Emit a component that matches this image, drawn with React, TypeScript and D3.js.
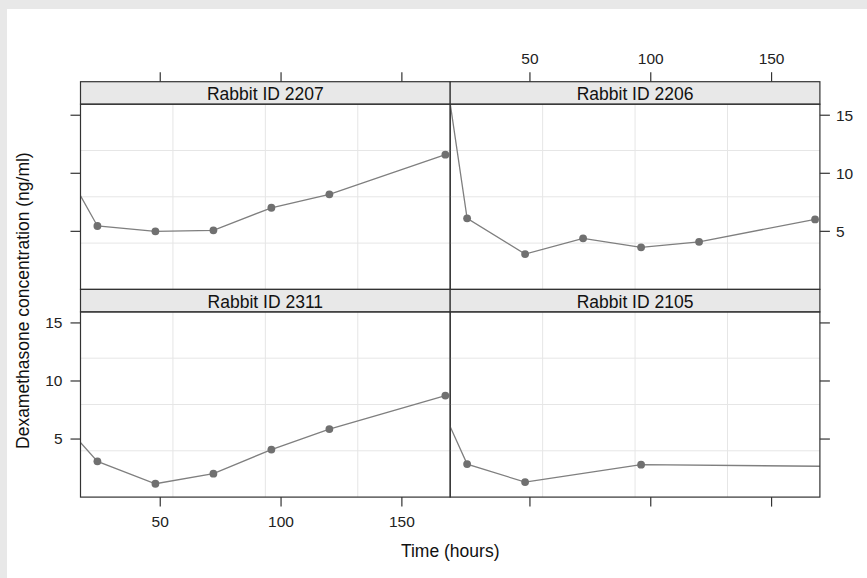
import React from "react";
import * as d3 from "d3";

const rabbitIds = ["2207", "2206", "2311", "2105"];
const time2207 = [0, 24, 48, 72, 96, 120, 168];
const conc2207 = [14.4, 5.46, 5.0, 5.09, 7.03, 8.19, 11.6];
const time2206 = [0, 24, 48, 72, 96, 120, 168];
const conc2206 = [40, 6.12, 3.04, 4.4, 3.62, 4.1, 6.03];
const time2311 = [0, 24, 48, 72, 96, 120, 168];
const conc2311 = [8.6, 3.08, 1.15, 2.02, 4.09, 5.86, 8.74];
const time2105 = [0, 24, 48, 96, 192];
const conc2105 = [13.9, 2.84, 1.29, 2.79, 2.62];

const xTicks = [50, 100, 150];
const yTicks = [5, 10, 15];
const xDomain = [17, 170];
const yDomain = [0, 15.95];

const series: Record<string, { t: number[]; c: number[] }> = {
  "2207": { t: time2207, c: conc2207 },
  "2206": { t: time2206, c: conc2206 },
  "2311": { t: time2311, c: conc2311 },
  "2105": { t: time2105, c: conc2105 },
};

const W = 867;
const H = 578;
const left = 80.5;
const panelW = 369.7;
const stripTop = 81.7;
const stripH = 22.5;
const panelH = 185.2;
const FONT = "'Liberation Sans', Arial, sans-serif";
const AXIS = "#333";

export default function App() {
  const layout = [
    { id: rabbitIds[0], col: 0, row: 0 },
    { id: rabbitIds[1], col: 1, row: 0 },
    { id: rabbitIds[2], col: 0, row: 1 },
    { id: rabbitIds[3], col: 1, row: 1 },
  ];
  const gridX = d3.range(1, 4).map((i) => xDomain[0] + (i * (xDomain[1] - xDomain[0])) / 4);
  const gridY = d3.range(1, 4).map((i) => yDomain[0] + (i * (yDomain[1] - yDomain[0])) / 4);

  const rowTop = (row: number) => stripTop + row * (stripH + panelH);
  const bottomAll = rowTop(1) + stripH + panelH;
  const rightAll = left + 2 * panelW;

  return (
    <svg
      width={W}
      height={H}
      style={{ position: "absolute", left: 0, top: 0 }}
      fontFamily={FONT}
    >
      <rect x={0} y={0} width={W} height={H} fill="#e8e8e8" />
      <rect x={7} y={9} width={W - 7} height={H - 9} fill="#ffffff" />
      <defs>
        {layout.map((p) => {
          const x0 = left + p.col * panelW;
          const y0 = rowTop(p.row) + stripH;
          return (
            <clipPath id={`clip${p.id}`} key={p.id}>
              <rect x={x0} y={y0} width={panelW} height={panelH} />
            </clipPath>
          );
        })}
      </defs>
      {layout.map((p) => {
        const x0 = left + p.col * panelW;
        const sTop = rowTop(p.row);
        const y0 = sTop + stripH;
        const xs = d3.scaleLinear().domain(xDomain).range([x0, x0 + panelW]);
        const ys = d3.scaleLinear().domain(yDomain).range([y0 + panelH, y0]);
        const s = series[p.id];
        const pts = s.t.map((t, i) => [t, s.c[i]] as [number, number]);
        const line = d3
          .line<[number, number]>()
          .x((d) => xs(d[0]))
          .y((d) => ys(d[1]));
        return (
          <g key={p.id}>
            <g clipPath={`url(#clip${p.id})`}>
              {gridX.map((g, i) => (
                <line key={"gx" + i} x1={xs(g)} x2={xs(g)} y1={y0} y2={y0 + panelH} stroke="#e6e6e6" strokeWidth={1} />
              ))}
              {gridY.map((g, i) => (
                <line key={"gy" + i} x1={x0} x2={x0 + panelW} y1={ys(g)} y2={ys(g)} stroke="#e6e6e6" strokeWidth={1} />
              ))}
              <path d={line(pts) || ""} fill="none" stroke="#7f7f7f" strokeWidth={1.3} />
              {pts.map((d, i) => (
                <circle key={i} cx={xs(d[0])} cy={ys(d[1])} r={3.9} fill="#707070" />
              ))}
            </g>
            <rect x={x0} y={sTop} width={panelW} height={stripH} fill="#e8e8e8" stroke={AXIS} strokeWidth={1.2} />
            <text x={x0 + panelW / 2} y={sTop + stripH - 4.3} textAnchor="middle" fontSize={17.5} fill="#111">
              {`Rabbit ID ${p.id}`}
            </text>
            <rect x={x0} y={y0} width={panelW} height={panelH} fill="none" stroke={AXIS} strokeWidth={1.2} />
            {p.col === 0 &&
              yTicks.map((t) => (
                <g key={"yl" + t}>
                  <line x1={x0 - 10} x2={x0} y1={ys(t)} y2={ys(t)} stroke={AXIS} strokeWidth={1.2} />
                  {p.row === 1 && (
                    <text x={x0 - 18} y={ys(t) + 5.4} textAnchor="end" fontSize={15.5} fill="#222">
                      {t}
                    </text>
                  )}
                </g>
              ))}
            {p.col === 1 &&
              yTicks.map((t) => (
                <g key={"yr" + t}>
                  <line x1={x0 + panelW} x2={x0 + panelW + 10} y1={ys(t)} y2={ys(t)} stroke={AXIS} strokeWidth={1.2} />
                  {p.row === 0 && (
                    <text x={x0 + panelW + 16} y={ys(t) + 5.4} textAnchor="start" fontSize={15.5} fill="#222">
                      {t}
                    </text>
                  )}
                </g>
              ))}
            {p.row === 0 &&
              xTicks.map((t) => (
                <g key={"xt" + t}>
                  <line x1={xs(t)} x2={xs(t)} y1={sTop - 9.5} y2={sTop} stroke={AXIS} strokeWidth={1.2} />
                  {p.col === 1 && (
                    <text x={xs(t)} y={sTop - 17.3} textAnchor="middle" fontSize={15.5} fill="#222">
                      {t}
                    </text>
                  )}
                </g>
              ))}
            {p.row === 1 &&
              xTicks.map((t) => (
                <g key={"xb" + t}>
                  <line x1={xs(t)} x2={xs(t)} y1={y0 + panelH} y2={y0 + panelH + 9.5} stroke={AXIS} strokeWidth={1.2} />
                  {p.col === 0 && (
                    <text x={xs(t)} y={y0 + panelH + 29.6} textAnchor="middle" fontSize={15.5} fill="#222">
                      {t}
                    </text>
                  )}
                </g>
              ))}
          </g>
        );
      })}
      <text x={(left + rightAll) / 2} y={557} textAnchor="middle" fontSize={17.5} fill="#111">
        Time (hours)
      </text>
      <text
        transform={`translate(28.7, ${(rowTop(0) + stripH + bottomAll) / 2}) rotate(-90)`}
        textAnchor="middle"
        fontSize={17.5}
        fill="#111"
      >
        Dexamethasone concentration (ng/ml)
      </text>
    </svg>
  );
}
